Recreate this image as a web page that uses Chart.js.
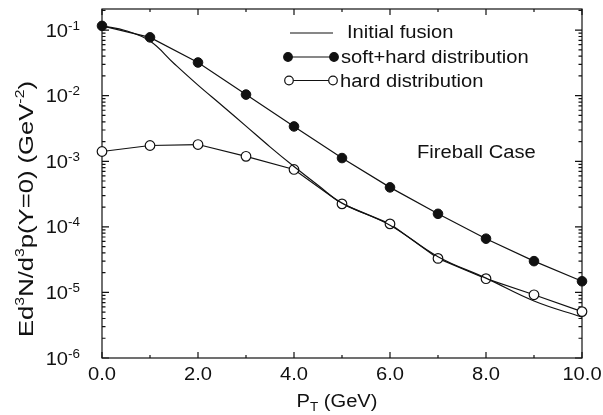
<!DOCTYPE html>
<html>
<head>
<meta charset="UTF-8">
<title>Fireball Case</title>
<script src="https://cdn.jsdelivr.net/npm/chart.js"></script>
<style>
  body { margin: 0; background: #fff; }
  canvas { display: block; }
</style>
</head>
<body>
<canvas id="graphique" width="603" height="415"></canvas>
<script>
// data
const pt = [0, 1, 2, 3, 4, 5, 6, 7, 8, 9, 10];
const softHard = [0.116, 0.0776, 0.0321, 0.0104, 0.0034, 0.00112, 4.0e-4, 1.58e-4, 6.6e-5, 3.0e-5, 1.48e-5];
const hard = [1.41e-3, 1.74e-3, 1.80e-3, 1.19e-3, 7.5e-4, 2.24e-4, 1.11e-4, 3.3e-5, 1.62e-5, 9.2e-6, 5.1e-6];
const fusionPt = [0, 0.5, 1, 1.5, 2, 2.5, 3, 3.5, 4, 4.5, 5, 6, 7, 8, 9, 10];
const fusion = [0.116, 0.098, 0.068, 0.031, 0.0145, 0.0071, 0.00344, 0.00166, 8.3e-4, 4.3e-4, 2.3e-4, 1.06e-4, 3.5e-5, 1.65e-5, 7.4e-6, 4.2e-6];
const xTicks = [0, 2, 4, 6, 8, 10];
const yDecades = [-1, -2, -3, -4, -5, -6];
const legendNames = ["Initial fusion", "soft+hard distribution", "hard distribution"];

const FONT = "'Liberation Sans', Arial, sans-serif";
let SX = 1.12; // the figure's lettering is a little wide

function pts(xs, ys) { return xs.map((x, i) => ({ x: x, y: ys[i] })); }

// draw text made of parts (for super/subscripts), stretched along the line
function rich(ctx, parts, x, y, align) {
  let w = 0;
  parts.forEach(p => { ctx.font = p.size + "px " + FONT; w += ctx.measureText(p.t).width * SX; });
  let cx = align === "right" ? x - w : align === "center" ? x - w / 2 : x;
  parts.forEach(p => {
    ctx.font = p.size + "px " + FONT;
    ctx.save();
    ctx.translate(cx, y + (p.dy || 0));
    ctx.scale(SX, 1);
    ctx.textAlign = "left";
    ctx.textBaseline = "alphabetic";
    ctx.fillText(p.t, 0, 0);
    ctx.restore();
    cx += ctx.measureText(p.t).width * SX;
  });
}

const cadre = {
  id: "cadre",
  beforeDatasetsDraw(chart) {
    const ctx = chart.ctx, a = chart.chartArea;
    const xs = chart.scales.x, ys = chart.scales.y;
    ctx.save();
    ctx.strokeStyle = "#111";
    ctx.lineWidth = 1.2;
    ctx.strokeRect(a.left, a.top, a.right - a.left, a.bottom - a.top);
    ctx.beginPath();
    for (let v = 0; v <= 10; v++) {
      const px = xs.getPixelForValue(v);
      const len = v % 2 === 0 ? 6 : 3;
      ctx.moveTo(px, a.bottom); ctx.lineTo(px, a.bottom - len);
      ctx.moveTo(px, a.top); ctx.lineTo(px, a.top + len);
    }
    for (let e = -6; e <= -1; e++) {
      for (let m = 1; m <= 9; m++) {
        const v = m * Math.pow(10, e);
        if (v > ys.max) continue;
        const py = ys.getPixelForValue(v);
        const len = m === 1 ? 7 : 3.5;
        ctx.moveTo(a.left, py); ctx.lineTo(a.left + len, py);
        ctx.moveTo(a.right, py); ctx.lineTo(a.right - len, py);
      }
    }
    ctx.stroke();
    ctx.restore();
  },
  afterDraw(chart) {
    const ctx = chart.ctx;
    const xs = chart.scales.x, ys = chart.scales.y;
    ctx.save();
    ctx.fillStyle = "#111";
    ctx.strokeStyle = "#111";

    // y tick labels
    yDecades.forEach(e => {
      const py = ys.getPixelForValue(Math.pow(10, e));
      rich(ctx, [{ t: "10", size: 18 }, { t: String(e), size: 12, dy: -7 }], 80, py + 6.5, "right");
    });
    // x tick labels
    xTicks.forEach(v => {
      rich(ctx, [{ t: v.toFixed(1), size: 18 }], xs.getPixelForValue(v), 380, "center");
    });
    // x title
    rich(ctx, [{ t: "P", size: 18 }, { t: "T", size: 12, dy: 4 }, { t: " (GeV)", size: 18 }], 337, 407, "center");
    // y title
    ctx.save();
    ctx.translate(33, 209);
    ctx.rotate(-Math.PI / 2);
    SX = 1.22;
    rich(ctx, [
      { t: "Ed", size: 21 }, { t: "3", size: 13, dy: -9 }, { t: "N/d", size: 21 },
      { t: "3", size: 13, dy: -9 }, { t: "p(Y=0) (GeV", size: 21 }, { t: "-2", size: 13, dy: -9 },
      { t: ")", size: 21 }
    ], 0, 0, "center");
    SX = 1.12;
    ctx.restore();

    // legend
    ctx.lineWidth = 1.2;
    ctx.beginPath(); ctx.moveTo(290, 33); ctx.lineTo(333, 33); ctx.stroke();
    rich(ctx, [{ t: legendNames[0], size: 18 }], 347, 38, "left");
    [[57, true, 288, 334, 1], [80.5, false, 289, 333, 2]].forEach(r => {
      ctx.beginPath(); ctx.moveTo(r[2], r[0]); ctx.lineTo(r[3], r[0]); ctx.stroke();
      [r[2], r[3]].forEach(cx => {
        ctx.beginPath();
        ctx.arc(cx, r[0], 4.3, 0, Math.PI * 2);
        ctx.fillStyle = r[1] ? "#111" : "#fff";
        ctx.fill(); ctx.stroke();
      });
      ctx.fillStyle = "#111";
      rich(ctx, [{ t: legendNames[r[4]], size: 18 }], r[3] + 7, r[0] + 6.4, "left");
    });

    rich(ctx, [{ t: "Fireball Case", size: 18 }], 417, 158, "left");
    ctx.restore();
  }
};

const chart = new Chart(document.getElementById("graphique").getContext("2d"), {
  type: "line",
  data: {
    datasets: [
      {
        label: legendNames[0],
        data: pts(fusionPt, fusion),
        borderColor: "#111",
        borderWidth: 1.2,
        pointRadius: 0,
        tension: 0.4,
        fill: false,
        clip: false
      },
      {
        label: legendNames[2],
        data: pts(pt, hard),
        borderColor: "#111",
        borderWidth: 1.2,
        pointRadius: 4.8,
        pointBackgroundColor: "#fff",
        pointBorderColor: "#111",
        pointBorderWidth: 1.2,
        tension: 0,
        fill: false,
        clip: false
      },
      {
        label: legendNames[1],
        data: pts(pt, softHard),
        borderColor: "#111",
        borderWidth: 1.2,
        pointRadius: 4.8,
        pointBackgroundColor: "#111",
        pointBorderColor: "#111",
        pointBorderWidth: 1,
        tension: 0,
        fill: false,
        clip: false
      }
    ]
  },
  options: {
    responsive: false,
    animation: false,
    devicePixelRatio: 1,
    layout: { padding: { left: 102, right: 21, top: 9, bottom: 57 } },
    plugins: { legend: { display: false }, tooltip: { enabled: false } },
    scales: {
      x: { type: "linear", min: 0, max: 10, display: false },
      y: { type: "logarithmic", min: 1e-6, max: 0.21, display: false }
    }
  },
  plugins: [cadre]
});
</script>
</body>
</html>
